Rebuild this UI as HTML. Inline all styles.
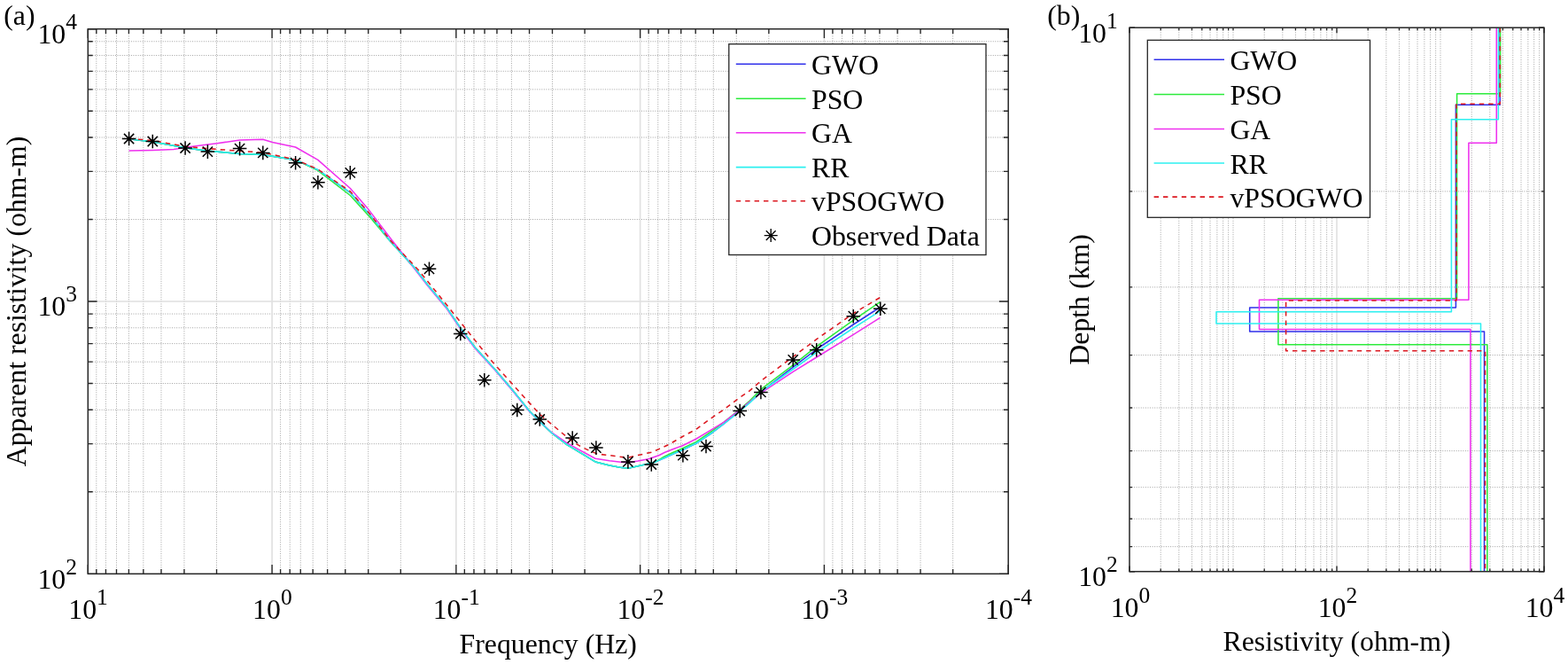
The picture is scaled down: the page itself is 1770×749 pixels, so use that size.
<!DOCTYPE html>
<html><head><meta charset="utf-8"><title>Inversion results</title>
<style>html,body{margin:0;padding:0;background:#fff;overflow:hidden}svg{display:block}</style>
</head><body>
<svg width="1770" height="749" viewBox="0 0 1770 749">
<rect width="1770" height="749" fill="#fff"/>
<path d="M244.53 32.7V647.3M207.94 32.7V647.3M181.98 32.7V647.3M161.85 32.7V647.3M145.4 32.7V647.3M131.49 32.7V647.3M119.44 32.7V647.3M108.81 32.7V647.3M452.31 32.7V647.3M415.72 32.7V647.3M389.76 32.7V647.3M369.63 32.7V647.3M353.18 32.7V647.3M339.27 32.7V647.3M327.22 32.7V647.3M316.59 32.7V647.3M660.09 32.7V647.3M623.5 32.7V647.3M597.54 32.7V647.3M577.41 32.7V647.3M560.96 32.7V647.3M547.05 32.7V647.3M535 32.7V647.3M524.37 32.7V647.3M867.87 32.7V647.3M831.28 32.7V647.3M805.32 32.7V647.3M785.19 32.7V647.3M768.74 32.7V647.3M754.83 32.7V647.3M742.78 32.7V647.3M732.15 32.7V647.3M1075.65 32.7V647.3M1039.06 32.7V647.3M1013.1 32.7V647.3M992.97 32.7V647.3M976.52 32.7V647.3M962.61 32.7V647.3M950.56 32.7V647.3M939.93 32.7V647.3M99.3 554.79H1138.2M99.3 500.68H1138.2M99.3 462.29H1138.2M99.3 432.51H1138.2M99.3 408.17H1138.2M99.3 387.6H1138.2M99.3 369.78H1138.2M99.3 354.06H1138.2M99.3 247.49H1138.2M99.3 193.38H1138.2M99.3 154.99H1138.2M99.3 125.21H1138.2M99.3 100.87H1138.2M99.3 80.3H1138.2M99.3 62.48H1138.2M99.3 46.76H1138.2" stroke="#a2a2a2" stroke-width="1" stroke-dasharray="1 1.56" fill="none"/>
<path d="M307.08 32.7V647.3M514.86 32.7V647.3M722.64 32.7V647.3M930.42 32.7V647.3M99.3 340H1138.2" stroke="#e0e0e0" stroke-width="1.6" fill="none"/>
<path d="M1310.22 31.2V644.7M1330.82 31.2V644.7M1345.44 31.2V644.7M1356.78 31.2V644.7M1366.04 31.2V644.7M1373.88 31.2V644.7M1380.66 31.2V644.7M1386.65 31.2V644.7M1392 31.2V644.7M1427.22 31.2V644.7M1447.82 31.2V644.7M1462.44 31.2V644.7M1473.78 31.2V644.7M1483.04 31.2V644.7M1490.88 31.2V644.7M1497.66 31.2V644.7M1503.65 31.2V644.7M1544.22 31.2V644.7M1564.82 31.2V644.7M1579.44 31.2V644.7M1590.78 31.2V644.7M1600.04 31.2V644.7M1607.88 31.2V644.7M1614.66 31.2V644.7M1620.65 31.2V644.7M1626 31.2V644.7M1661.22 31.2V644.7M1681.82 31.2V644.7M1696.44 31.2V644.7M1707.78 31.2V644.7M1717.04 31.2V644.7M1724.88 31.2V644.7M1731.66 31.2V644.7M1737.65 31.2V644.7M1275 215.88H1743M1275 323.91H1743M1275 400.56H1743M1275 460.02H1743M1275 508.6H1743M1275 549.67H1743M1275 585.25H1743M1275 616.63H1743" stroke="#a2a2a2" stroke-width="1" stroke-dasharray="1 1.56" fill="none"/>
<path d="M1509 31.2V644.7" stroke="#e0e0e0" stroke-width="1.6" fill="none"/>
<polyline points="145.6,156.7 172.5,159.9 209.2,166.7 234.5,170.3 270.6,173.4 296.8,174.5 333.6,180.4 358.9,191.6 395.4,217.3 418.1,242.9 440,271.5 467.8,302 482.7,321.2 504.1,346.9 520.1,370.4 536.1,391.7 559.2,417.2 578.4,439.7 597.7,463.7 609,475.5 623.5,489 640,501.6 648,506.4 660,513.7 672,520.9 688.1,524.9 700.1,527.3 708.9,528.3 720.1,525.7 728.1,524.1 740.2,520.9 750,516.5 760,512 770.4,507.5 786,500 804.1,488 817.3,478 834.1,464.2 846.1,454 858.1,443.5 870,433.5 895.2,414.2 921.7,394 963.4,366 993.5,346.5" fill="none" stroke="#3030ea" stroke-width="1.55" stroke-linejoin="round"/>
<polyline points="145.6,156.7 172.5,159.9 209.2,166.7 234.5,170.3 270.6,173.4 296.8,174.5 333.6,180.4 358.9,192.4 395.4,220.5 418.1,245.5 440,271.5 467.8,302 482.7,321.2 504.1,346.9 520.1,370.4 536.1,391.7 559.2,417.2 578.4,439.7 597.7,463.7 609,475.5 623.5,489 640,501.6 648,506.4 660,513.7 672,520.9 688.1,524.9 700.1,527.3 708.9,528.3 720.1,525.7 728.1,524.1 740.2,520.9 750,515 760,510.3 770.4,505.8 786,498.4 804.1,485.8 817.3,476 834.1,462.5 846.1,452.3 860,438.3 895.2,411.8 921.7,390.8 963.4,361.2 993.5,340.7" fill="none" stroke="#2ceb3c" stroke-width="1.55" stroke-linejoin="round"/>
<polyline points="145.6,170.1 172.5,169.4 196,168.5 209.2,166.3 234.5,163.1 244.9,161.7 270.6,158.1 296.8,157.2 307.6,160.4 333.6,166 358.9,180.4 395.4,212.5 414.9,234.9 440.5,268.5 467.8,303 482.7,322.2 504.1,347.9 520.1,371.4 536.1,392.7 559.2,418 578.4,440.5 597.7,464.2 609,475.5 623.5,488.5 640,499.6 652,506.4 672,517.3 688.1,519.7 700.9,521.3 708.9,521.7 720.1,520.1 732.1,517.7 744.2,513.5 750,510.5 760,506.5 770.4,502.8 786,495 804.1,484.1 817.3,476.2 834.1,463 846.1,453.4 860,442.6 895.2,419.4 921.7,403 963.4,377.3 993.5,358.3" fill="none" stroke="#ee30ee" stroke-width="1.55" stroke-linejoin="round"/>
<polyline points="145.6,156.7 172.5,159.9 209.2,166.7 234.5,170.3 270.6,173.4 296.8,174.5 333.6,180.4 358.9,191.6 395.4,217.3 418.1,242.9 440,271.5 467.8,302 482.7,321.2 504.1,346.9 520.1,370.4 536.1,391.7 559.2,417.2 578.4,439.7 597.7,463.7 609,475.5 623.5,489 640,501.6 648,506.4 660,513.7 672,520.9 688.1,524.9 700.1,527.3 708.9,528.3 720.1,525.7 728.1,524.1 740.2,520.9 750,516.5 760,512 770.4,507.5 786,500 804.1,488 817.3,478 834.1,464.6 846.1,454.6 860,441 895.2,416.5 921.7,397.5 963.4,370 993.5,350.8" fill="none" stroke="#2cf0f0" stroke-width="1.55" stroke-linejoin="round"/>
<polyline points="145.6,156.3 172.5,158.5 209.2,165.3 234.5,167.6 270.6,170.3 296.8,172.1 333.6,180 358.9,191 395.4,216 418.1,242 440,270.5 472,304.2 504.1,343.7 525.4,370.4 542.5,391.7 556.4,408.8 578.4,433.3 608.9,466.9 639.3,492.5 648,499.2 657.6,504.8 666.4,508.8 674.5,512.1 688.1,513.7 697.7,514.9 708.1,516.3 716.1,514.5 726.5,512.1 736.2,510 744.2,506.4 755.4,501.2 770.4,492.5 786,484.1 804.1,470.8 817.3,461.8 834.1,449.2 846.1,440.8 858,430.5 895.2,402.5 921.7,382.7 963.4,353.5 993.5,335.5" fill="none" stroke="#dc1820" stroke-width="1.55" stroke-linejoin="round" stroke-dasharray="5.4 5.0"/>
<path d="M137.8 156.5h15.6M145.6 148.7v15.6M139.98 150.88l11.23 11.23M139.98 162.12l11.23 -11.23M164.5 159.5h15.6M172.3 151.7v15.6M166.68 153.88l11.23 11.23M166.68 165.12l11.23 -11.23M201.3 167h15.6M209.1 159.2v15.6M203.48 161.38l11.23 11.23M203.48 172.62l11.23 -11.23M226.6 171.1h15.6M234.4 163.3v15.6M228.78 165.48l11.23 11.23M228.78 176.72l11.23 -11.23M262.8 167.6h15.6M270.6 159.8v15.6M264.98 161.98l11.23 11.23M264.98 173.22l11.23 -11.23M289 172.4h15.6M296.8 164.6v15.6M291.18 166.78l11.23 11.23M291.18 178.02l11.23 -11.23M325.8 183.7h15.6M333.6 175.9v15.6M327.98 178.08l11.23 11.23M327.98 189.32l11.23 -11.23M351.1 205.8h15.6M358.9 198v15.6M353.28 200.18l11.23 11.23M353.28 211.42l11.23 -11.23M387.5 194.8h15.6M395.3 187v15.6M389.68 189.18l11.23 11.23M389.68 200.42l11.23 -11.23M476.7 303.3h15.6M484.5 295.5v15.6M478.88 297.68l11.23 11.23M478.88 308.92l11.23 -11.23M512 376.5h15.6M519.8 368.7v15.6M514.18 370.88l11.23 11.23M514.18 382.12l11.23 -11.23M539 428.7h15.6M546.8 420.9v15.6M541.18 423.08l11.23 11.23M541.18 434.32l11.23 -11.23M576 462.5h15.6M583.8 454.7v15.6M578.18 456.88l11.23 11.23M578.18 468.12l11.23 -11.23M601.5 473h15.6M609.3 465.2v15.6M603.68 467.38l11.23 11.23M603.68 478.62l11.23 -11.23M638.4 494.1h15.6M646.2 486.3v15.6M640.58 488.48l11.23 11.23M640.58 499.72l11.23 -11.23M665.1 505.1h15.6M672.9 497.3v15.6M667.28 499.48l11.23 11.23M667.28 510.72l11.23 -11.23M701.1 520.9h15.6M708.9 513.1v15.6M703.28 515.28l11.23 11.23M703.28 526.52l11.23 -11.23M727.5 524h15.6M735.3 516.2v15.6M729.68 518.38l11.23 11.23M729.68 529.62l11.23 -11.23M763.1 513.7h15.6M770.9 505.9v15.6M765.28 508.08l11.23 11.23M765.28 519.32l11.23 -11.23M789.2 503.5h15.6M797 495.7v15.6M791.38 497.88l11.23 11.23M791.38 509.12l11.23 -11.23M827.4 463.5h15.6M835.2 455.7v15.6M829.58 457.88l11.23 11.23M829.58 469.12l11.23 -11.23M851.1 442.4h15.6M858.9 434.6v15.6M853.28 436.78l11.23 11.23M853.28 448.02l11.23 -11.23M887.4 405.9h15.6M895.2 398.1v15.6M889.58 400.28l11.23 11.23M889.58 411.52l11.23 -11.23M913.9 394.7h15.6M921.7 386.9v15.6M916.08 389.08l11.23 11.23M916.08 400.32l11.23 -11.23M955.5 356.7h15.6M963.3 348.9v15.6M957.68 351.08l11.23 11.23M957.68 362.32l11.23 -11.23M986 348.3h15.6M993.8 340.5v15.6M988.18 342.68l11.23 11.23M988.18 353.92l11.23 -11.23" stroke="#000" stroke-width="1.5" fill="none"/>
<polyline points="1693.2,31.2 1693.2,118.2 1643.4,118.2 1643.4,347 1410.7,347 1410.7,374 1675.5,374 1675.5,644.7" fill="none" stroke="#3030ea" stroke-width="1.55" stroke-linejoin="round"/>
<polyline points="1693.6,31.2 1693.6,105.8 1644.6,105.8 1644.6,336.8 1442.9,336.8 1442.9,388.8 1678.9,388.8 1678.9,644.7" fill="none" stroke="#2ceb3c" stroke-width="1.55" stroke-linejoin="round"/>
<polyline points="1689.3,31.2 1689.3,161.3 1657.9,161.3 1657.9,338.3 1421.5,338.3 1421.5,371.5 1659.9,371.5 1659.9,644.7" fill="none" stroke="#ee30ee" stroke-width="1.55" stroke-linejoin="round"/>
<polyline points="1691.4,31.2 1691.4,134.8 1638.4,134.8 1638.4,351.8 1373,351.8 1373,364.9 1671.5,364.9 1671.5,644.7" fill="none" stroke="#2cf0f0" stroke-width="1.55" stroke-linejoin="round"/>
<polyline points="1693.2,31.2 1693.2,117.2 1644,117.2 1644,338.9 1451.6,338.9 1451.6,395.8 1676.5,395.8 1676.5,644.7" fill="none" stroke="#dc1820" stroke-width="1.55" stroke-linejoin="round" stroke-dasharray="5.4 5.0"/>
<path d="M99.3 647.3v-10.3M99.3 32.7v10.3M307.08 647.3v-10.3M307.08 32.7v10.3M514.86 647.3v-10.3M514.86 32.7v10.3M722.64 647.3v-10.3M722.64 32.7v10.3M930.42 647.3v-10.3M930.42 32.7v10.3M1138.2 647.3v-10.3M1138.2 32.7v10.3M244.53 647.3v-5.4M244.53 32.7v5.4M207.94 647.3v-5.4M207.94 32.7v5.4M181.98 647.3v-5.4M181.98 32.7v5.4M161.85 647.3v-5.4M161.85 32.7v5.4M145.4 647.3v-5.4M145.4 32.7v5.4M131.49 647.3v-5.4M131.49 32.7v5.4M119.44 647.3v-5.4M119.44 32.7v5.4M108.81 647.3v-5.4M108.81 32.7v5.4M452.31 647.3v-5.4M452.31 32.7v5.4M415.72 647.3v-5.4M415.72 32.7v5.4M389.76 647.3v-5.4M389.76 32.7v5.4M369.63 647.3v-5.4M369.63 32.7v5.4M353.18 647.3v-5.4M353.18 32.7v5.4M339.27 647.3v-5.4M339.27 32.7v5.4M327.22 647.3v-5.4M327.22 32.7v5.4M316.59 647.3v-5.4M316.59 32.7v5.4M660.09 647.3v-5.4M660.09 32.7v5.4M623.5 647.3v-5.4M623.5 32.7v5.4M597.54 647.3v-5.4M597.54 32.7v5.4M577.41 647.3v-5.4M577.41 32.7v5.4M560.96 647.3v-5.4M560.96 32.7v5.4M547.05 647.3v-5.4M547.05 32.7v5.4M535 647.3v-5.4M535 32.7v5.4M524.37 647.3v-5.4M524.37 32.7v5.4M867.87 647.3v-5.4M867.87 32.7v5.4M831.28 647.3v-5.4M831.28 32.7v5.4M805.32 647.3v-5.4M805.32 32.7v5.4M785.19 647.3v-5.4M785.19 32.7v5.4M768.74 647.3v-5.4M768.74 32.7v5.4M754.83 647.3v-5.4M754.83 32.7v5.4M742.78 647.3v-5.4M742.78 32.7v5.4M732.15 647.3v-5.4M732.15 32.7v5.4M1075.65 647.3v-5.4M1075.65 32.7v5.4M1039.06 647.3v-5.4M1039.06 32.7v5.4M1013.1 647.3v-5.4M1013.1 32.7v5.4M992.97 647.3v-5.4M992.97 32.7v5.4M976.52 647.3v-5.4M976.52 32.7v5.4M962.61 647.3v-5.4M962.61 32.7v5.4M950.56 647.3v-5.4M950.56 32.7v5.4M939.93 647.3v-5.4M939.93 32.7v5.4M99.3 647.3h10.3M1138.2 647.3h-10.3M99.3 340h10.3M1138.2 340h-10.3M99.3 32.7h10.3M1138.2 32.7h-10.3M99.3 554.79h5.4M1138.2 554.79h-5.4M99.3 500.68h5.4M1138.2 500.68h-5.4M99.3 462.29h5.4M1138.2 462.29h-5.4M99.3 432.51h5.4M1138.2 432.51h-5.4M99.3 408.17h5.4M1138.2 408.17h-5.4M99.3 387.6h5.4M1138.2 387.6h-5.4M99.3 369.78h5.4M1138.2 369.78h-5.4M99.3 354.06h5.4M1138.2 354.06h-5.4M99.3 247.49h5.4M1138.2 247.49h-5.4M99.3 193.38h5.4M1138.2 193.38h-5.4M99.3 154.99h5.4M1138.2 154.99h-5.4M99.3 125.21h5.4M1138.2 125.21h-5.4M99.3 100.87h5.4M1138.2 100.87h-5.4M99.3 80.3h5.4M1138.2 80.3h-5.4M99.3 62.48h5.4M1138.2 62.48h-5.4M99.3 46.76h5.4M1138.2 46.76h-5.4" stroke="#262626" stroke-width="1.35" fill="none"/>
<rect x="99.3" y="32.7" width="1038.9" height="614.6" fill="none" stroke="#262626" stroke-width="1.5"/>
<path d="M1275 644.7v-6.1M1275 31.2v6.1M1509 644.7v-6.1M1509 31.2v6.1M1743 644.7v-6.1M1743 31.2v6.1M1310.22 644.7v-3.1M1310.22 31.2v3.1M1330.82 644.7v-3.1M1330.82 31.2v3.1M1345.44 644.7v-3.1M1345.44 31.2v3.1M1356.78 644.7v-3.1M1356.78 31.2v3.1M1366.04 644.7v-3.1M1366.04 31.2v3.1M1373.88 644.7v-3.1M1373.88 31.2v3.1M1380.66 644.7v-3.1M1380.66 31.2v3.1M1386.65 644.7v-3.1M1386.65 31.2v3.1M1392 644.7v-3.1M1392 31.2v3.1M1427.22 644.7v-3.1M1427.22 31.2v3.1M1447.82 644.7v-3.1M1447.82 31.2v3.1M1462.44 644.7v-3.1M1462.44 31.2v3.1M1473.78 644.7v-3.1M1473.78 31.2v3.1M1483.04 644.7v-3.1M1483.04 31.2v3.1M1490.88 644.7v-3.1M1490.88 31.2v3.1M1497.66 644.7v-3.1M1497.66 31.2v3.1M1503.65 644.7v-3.1M1503.65 31.2v3.1M1544.22 644.7v-3.1M1544.22 31.2v3.1M1564.82 644.7v-3.1M1564.82 31.2v3.1M1579.44 644.7v-3.1M1579.44 31.2v3.1M1590.78 644.7v-3.1M1590.78 31.2v3.1M1600.04 644.7v-3.1M1600.04 31.2v3.1M1607.88 644.7v-3.1M1607.88 31.2v3.1M1614.66 644.7v-3.1M1614.66 31.2v3.1M1620.65 644.7v-3.1M1620.65 31.2v3.1M1626 644.7v-3.1M1626 31.2v3.1M1661.22 644.7v-3.1M1661.22 31.2v3.1M1681.82 644.7v-3.1M1681.82 31.2v3.1M1696.44 644.7v-3.1M1696.44 31.2v3.1M1707.78 644.7v-3.1M1707.78 31.2v3.1M1717.04 644.7v-3.1M1717.04 31.2v3.1M1724.88 644.7v-3.1M1724.88 31.2v3.1M1731.66 644.7v-3.1M1731.66 31.2v3.1M1737.65 644.7v-3.1M1737.65 31.2v3.1M1275 31.2h6.1M1743 31.2h-6.1M1275 644.7h6.1M1743 644.7h-6.1M1275 215.88h3.1M1743 215.88h-3.1M1275 323.91h3.1M1743 323.91h-3.1M1275 400.56h3.1M1743 400.56h-3.1M1275 460.02h3.1M1743 460.02h-3.1M1275 508.6h3.1M1743 508.6h-3.1M1275 549.67h3.1M1743 549.67h-3.1M1275 585.25h3.1M1743 585.25h-3.1M1275 616.63h3.1M1743 616.63h-3.1" stroke="#262626" stroke-width="1.35" fill="none"/>
<rect x="1275" y="31.2" width="468" height="613.5" fill="none" stroke="#262626" stroke-width="1.5"/>
<rect x="822.8" y="49.7" width="290.2" height="237.8" fill="#fff" stroke="#262626" stroke-width="1.3"/>
<g font-family='"Liberation Serif", "Times New Roman", serif' font-size="31.8" fill="#000">
<path d="M830.8 72.3H909.6" stroke="#3030ea" stroke-width="1.55"/>
<text x="916" y="83.9">GWO</text>
<path d="M830.8 111.2H909.6" stroke="#2ceb3c" stroke-width="1.55"/>
<text x="916" y="122.8">PSO</text>
<path d="M830.8 149.7H909.6" stroke="#ee30ee" stroke-width="1.55"/>
<text x="916" y="161.3">GA</text>
<path d="M830.8 188.6H909.6" stroke="#2cf0f0" stroke-width="1.55"/>
<text x="916" y="200.2">RR</text>
<path d="M830.8 226.7H909.6" stroke="#dc1820" stroke-width="1.55" stroke-dasharray="5.4 5.0"/>
<text x="916" y="238.3">vPSOGWO</text>
<path d="M862.7 265.6h15M870.2 258.1v15M864.8 260.2l10.8 10.8M864.8 271l10.8 -10.8" stroke="#000" stroke-width="1.35" fill="none"/>
<text x="916" y="277.2">Observed Data</text>
</g>
<rect x="1295.3" y="45.3" width="251.2" height="200" fill="#fff" stroke="#262626" stroke-width="1.3"/>
<g font-family='"Liberation Serif", "Times New Roman", serif' font-size="31.8" fill="#000">
<path d="M1302.6 67.3H1382" stroke="#3030ea" stroke-width="1.55"/>
<text x="1388.4" y="78.9">GWO</text>
<path d="M1302.6 106.4H1382" stroke="#2ceb3c" stroke-width="1.55"/>
<text x="1388.4" y="118">PSO</text>
<path d="M1302.6 145.5H1382" stroke="#ee30ee" stroke-width="1.55"/>
<text x="1388.4" y="157.1">GA</text>
<path d="M1302.6 184H1382" stroke="#2cf0f0" stroke-width="1.55"/>
<text x="1388.4" y="195.6">RR</text>
<path d="M1302.6 222.1H1382" stroke="#dc1820" stroke-width="1.55" stroke-dasharray="5.4 5.0"/>
<text x="1388.4" y="233.7">vPSOGWO</text>
</g>
<g fill="#000" font-family='"Liberation Serif", "Times New Roman", serif' font-size="31.8">
<text x="87" y="48.9" text-anchor="end">10<tspan font-size="25.5" dy="-15.8">4</tspan></text>
<text x="87" y="356.2" text-anchor="end">10<tspan font-size="25.5" dy="-15.8">3</tspan></text>
<text x="87" y="663.5" text-anchor="end">10<tspan font-size="25.5" dy="-15.8">2</tspan></text>
<text x="99.6" y="697.7" text-anchor="middle">10<tspan font-size="25.5" dy="-15.8">1</tspan></text>
<text x="307.38" y="697.7" text-anchor="middle">10<tspan font-size="25.5" dy="-15.8">0</tspan></text>
<text x="515.16" y="697.7" text-anchor="middle">10<tspan font-size="25.5" dy="-15.8">-1</tspan></text>
<text x="722.94" y="697.7" text-anchor="middle">10<tspan font-size="25.5" dy="-15.8">-2</tspan></text>
<text x="930.72" y="697.7" text-anchor="middle">10<tspan font-size="25.5" dy="-15.8">-3</tspan></text>
<text x="1138.5" y="697.7" text-anchor="middle">10<tspan font-size="25.5" dy="-15.8">-4</tspan></text>
<text x="1261.7" y="47.6" text-anchor="end">10<tspan font-size="25.5" dy="-15.8">1</tspan></text>
<text x="1261.7" y="661.1" text-anchor="end">10<tspan font-size="25.5" dy="-15.8">2</tspan></text>
<text x="1276" y="696" text-anchor="middle">10<tspan font-size="25.5" dy="-15.8">0</tspan></text>
<text x="1510" y="696" text-anchor="middle">10<tspan font-size="25.5" dy="-15.8">2</tspan></text>
<text x="1744" y="696" text-anchor="middle">10<tspan font-size="25.5" dy="-15.8">4</tspan></text>
<text x="618.75" y="736.5" text-anchor="middle">Frequency (Hz)</text>
<text x="1509" y="734" text-anchor="middle">Resistivity (ohm-m)</text>
<text transform="translate(29.2 340) rotate(-90)" text-anchor="middle">Apparent resistivity (ohm-m)</text>
<text transform="translate(1228.6 337.95) rotate(-90)" text-anchor="middle">Depth (km)</text>
<text x="4.2" y="27.6">(a)</text>
<text x="1182.2" y="27.6">(b)</text>
</g>
</svg>
</body></html>
